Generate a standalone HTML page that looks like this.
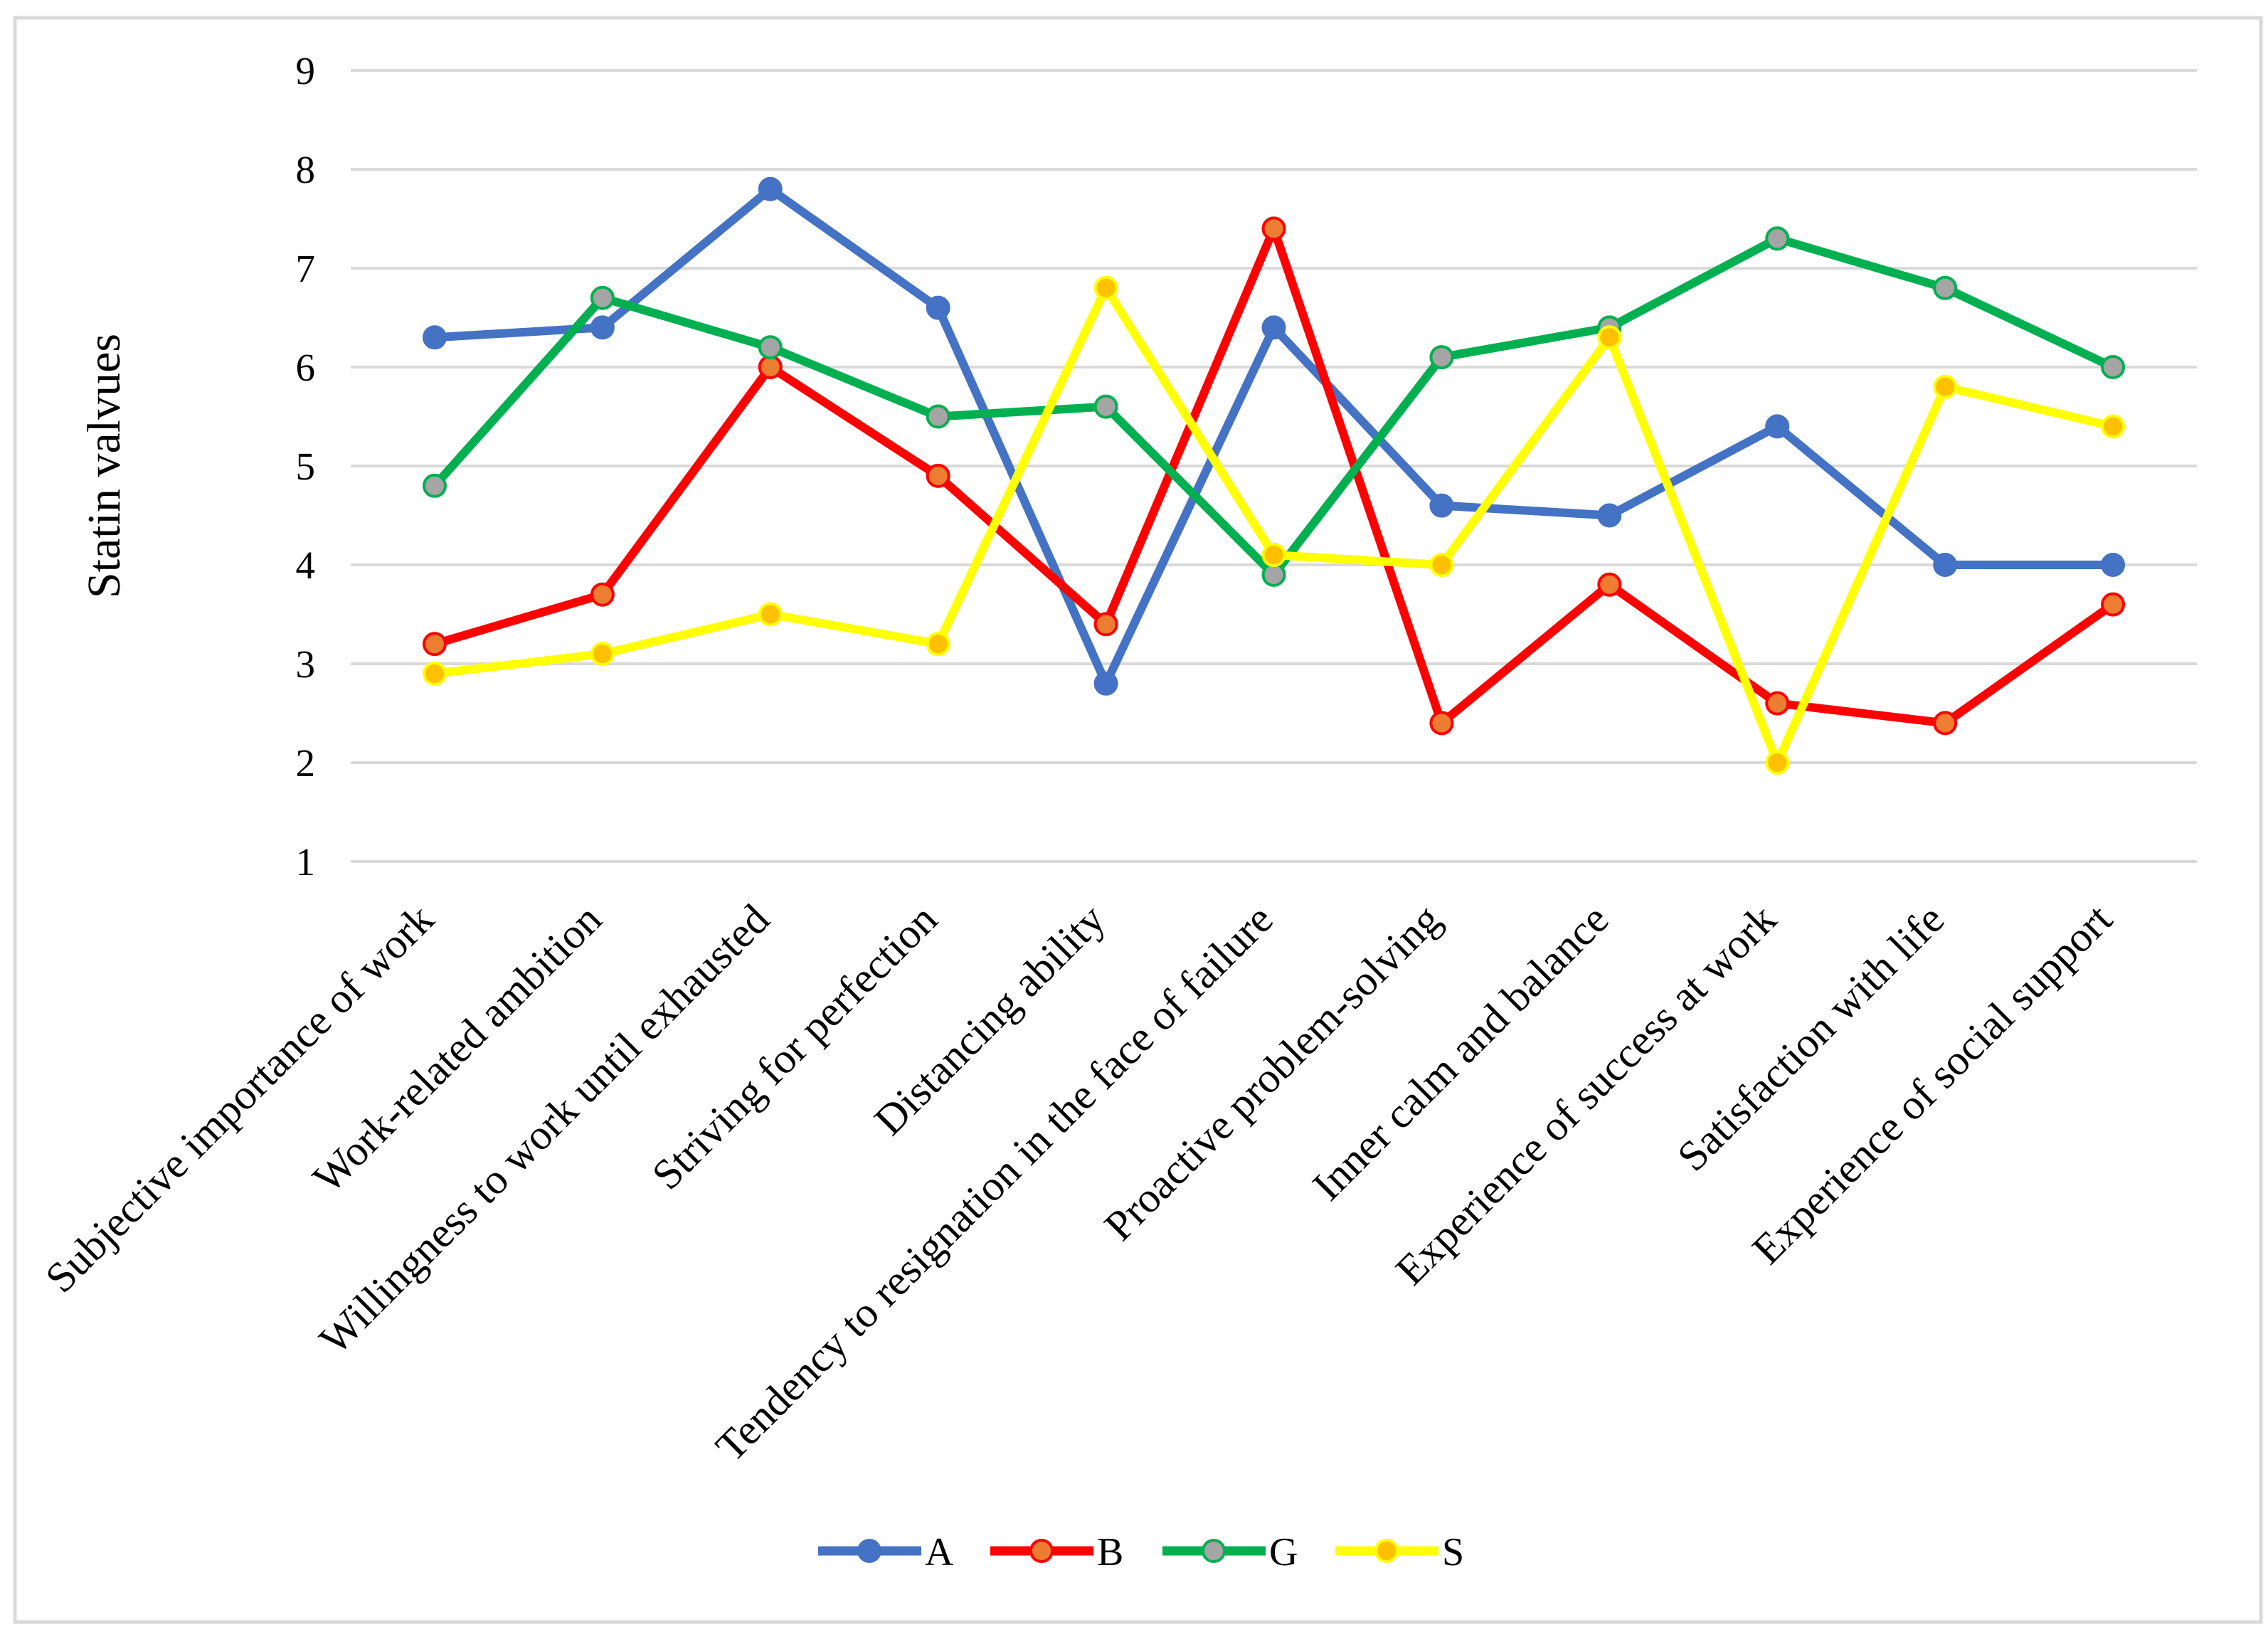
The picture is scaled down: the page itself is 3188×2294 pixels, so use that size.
<!DOCTYPE html>
<html><head><meta charset="utf-8"><style>
html,body{margin:0;padding:0;background:#fff;}
svg{display:block;font-family:"Liberation Serif",serif;}
</style></head><body>
<svg id="chart" width="3188" height="2294" viewBox="0 0 3188 2294">
<rect x="21" y="25" width="3157" height="2255" fill="#fff" stroke="#d9d9d9" stroke-width="5"/>
<g id="grid"></g>
<g id="yticks"></g>
<text x="0" y="0" transform="translate(168,655) rotate(-90)" text-anchor="middle" font-size="66" fill="#000">Statin valvues</text>
<g id="xlabels"></g>
<g id="series"></g>
<g id="legend"></g>
</svg>
<script>
const categories = ["Subjective importance of work","Work-related ambition","Willingness to work until exhausted","Striving for perfection","Distancing ability","Tendency to resignation in the face of failure","Proactive problem-solving","Inner calm and balance","Experience of success at work","Satisfaction with life","Experience of social support"];
const seriesNames = ["A","B","G","S"];
const valuesA = [6.3,6.4,7.8,6.6,2.8,6.4,4.6,4.5,5.4,4.0,4.0];
const valuesB = [3.2,3.7,6.0,4.9,3.4,7.4,2.4,3.8,2.6,2.4,3.6];
const valuesG = [4.8,6.7,6.2,5.5,5.6,3.9,6.1,6.4,7.3,6.8,6.0];
const valuesS = [2.9,3.1,3.5,3.2,6.8,4.1,4.0,6.3,2.0,5.8,5.4];
const yTicks = [1,2,3,4,5,6,7,8,9];

const NS="http://www.w3.org/2000/svg";
const plotL=493, plotR=3088, yTop=99, yBot=1211, yMin=1, yMax=9;
const band=(plotR-plotL)/categories.length;
function xPos(i){return plotL+band*(i+0.5);}
function yPos(v){return yBot-(v-yMin)/(yMax-yMin)*(yBot-yTop);}
function mk(tag,attrs,parent){const e=document.createElementNS(NS,tag);for(const k in attrs)e.setAttribute(k,attrs[k]);parent.appendChild(e);return e;}

const grid=document.getElementById('grid'), yt=document.getElementById('yticks');
yTicks.forEach(t=>{
  const l=mk('line',{x1:plotL,x2:plotR,y1:yPos(t),y2:yPos(t),stroke:'#d9d9d9','stroke-width':4},grid);
  
  
  const tx=mk('text',{x:443,y:yPos(t)+19,'text-anchor':'end','font-size':55,fill:'#000'},yt);
  tx.textContent=t;
  
  
});

const xl=document.getElementById('xlabels');
categories.forEach((c,i)=>{
  const ax=xPos(i)+2, ay=1296;
  const tx=mk('text',{x:0,y:0,transform:`translate(${ax},${ay}) rotate(-45)`,'text-anchor':'end','font-size':60,fill:'#000'},xl);
  tx.textContent=c;
  
  
});

const styles=[
  {line:'#4472c4',fill:'#4472c4',edge:'#4472c4',vals:valuesA},
  {line:'#ff0000',fill:'#ed7d31',edge:'#ff0000',vals:valuesB},
  {line:'#00b050',fill:'#a5a5a5',edge:'#00b050',vals:valuesG},
  {line:'#ffff00',fill:'#ffc000',edge:'#ffff00',vals:valuesS}
];
const sg=document.getElementById('series');
styles.forEach((s,k)=>{
  const g=mk('g',{},sg);
  
  
  const pts=s.vals.map((v,i)=>xPos(i)+','+yPos(v)).join(' ');
  const pl=mk('polyline',{points:pts,fill:'none',stroke:s.line,'stroke-width':12,'stroke-linejoin':'round'},g);
  
  
  s.vals.forEach((v,i)=>{
    const c=mk('circle',{cx:xPos(i),cy:yPos(v),r:15,fill:s.fill,stroke:s.edge,'stroke-width':4},g);
    
    
  });
});

const lg=document.getElementById('legend');
const legX=[1150,1392,1634,1877], legY=2180;
seriesNames.forEach((n,k)=>{
  const s=styles[k];
  const g=mk('g',{},lg);
  
  
  mk('line',{x1:legX[k],x2:legX[k]+145,y1:legY,y2:legY,stroke:s.line,'stroke-width':13},g);
  mk('circle',{cx:legX[k]+72,cy:legY,r:15,fill:s.fill,stroke:s.edge,'stroke-width':4},g);
  const t=mk('text',{x:legX[k]+150,y:legY+20,'font-size':56,fill:'#000'},g);
  t.textContent=n;
});
</script>
</body></html>
